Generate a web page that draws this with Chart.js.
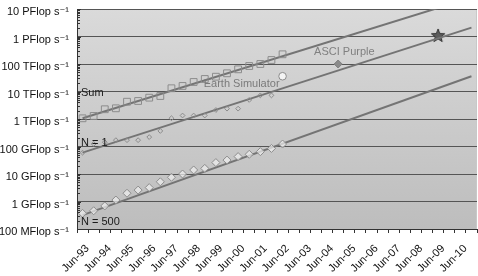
<!DOCTYPE html>
<html>
<head>
<meta charset="utf-8">
<script src="https://cdn.jsdelivr.net/npm/chart.js@4.4.1/dist/chart.umd.min.js"></script>
<style>
  html, body { margin: 0; padding: 0; background: #fff; }
  #wrap { width: 478px; height: 276px; }
</style>
</head>
<body>
<div id="wrap"><canvas id="myChart" width="478" height="276"></canvas></div>
<script>
// half-year TOP500 lists
const categories = ['Jun-93','Nov-93','Jun-94','Nov-94','Jun-95','Nov-95','Jun-96','Nov-96',
  'Jun-97','Nov-97','Jun-98','Nov-98','Jun-99','Nov-99','Jun-00','Nov-00','Jun-01','Nov-01',
  'Jun-02','Nov-02','Jun-03','Nov-03','Jun-04','Nov-04','Jun-05','Nov-05','Jun-06','Nov-06',
  'Jun-07','Nov-07','Jun-08','Nov-08','Jun-09','Nov-09','Jun-10','Nov-10'];

// values in GFlop/s
const sumValues = [1060, 1290, 2260, 2450, 4250, 4520, 5960, 6860, 13100, 15900, 22200,
  28500, 34500, 45900, 64100, 84500, 100000, 139700, 225400];
const n1Values = [59.7, 124, 143, 170, 170, 170, 220, 368, 1068, 1338, 1338, 1338, 2121,
  2379, 2379, 4938, 7226, 7226];
const n500Values = [0.37, 0.46, 0.69, 1.13, 2.0, 2.6, 3.2, 5.2, 7.6, 10, 14, 16, 26, 32,
  43, 52, 65, 85, 123];

// trend lines: value at first and last list
const sumTrend = [1060, 26000000];
const n1Trend = [60, 2100000];
const n500Trend = [0.32, 36000];

const earthSim = {x: 'Jun-02', y: 35860};
const asciPurple = {x: 'Nov-04', y: 100000};
const starPoint = {x: 'Jun-09', y: 1050000};

const yTickValues = [0.1, 1, 10, 100, 1000, 10000, 100000, 1000000, 10000000];
const yTickLabels = ['100 MFlop s\u207B\u00B9', '1 GFlop s\u207B\u00B9', '10 GFlop s\u207B\u00B9',
  '100 GFlop s\u207B\u00B9', '1 TFlop s\u207B\u00B9', '10 TFlop s\u207B\u00B9',
  '100 TFlop s\u207B\u00B9', '1 PFlop s\u207B\u00B9', '10 PFlop s\u207B\u00B9'];

const notes = [
  {text: 'Sum', at: {x: 'Jun-93', y: 10000}, dx: 4, dy: 1, align: 'left', color: '#1a1a1a'},
  {text: 'N = 1', at: {x: 'Jun-93', y: 100}, dx: 4, dy: -4, align: 'left', color: '#1a1a1a'},
  {text: 'N = 500', at: {x: 'Jun-93', y: 0.1}, dx: 4, dy: -7, align: 'left', color: '#1a1a1a'},
  {text: 'Earth Simulator', at: earthSim, dx: -3, dy: 8, align: 'right', color: '#7a7a7a'},
  {text: 'ASCI Purple', at: asciPurple, dx: -24, dy: -12, align: 'left', color: '#808080'}
];

const FONT = "'Liberation Sans', Arial, 'DejaVu Sans', sans-serif";
Chart.defaults.font.family = FONT;
Chart.defaults.font.size = 11;
Chart.defaults.color = '#111';

function isDecade(v) {
  const l = Math.log10(v);
  return Math.abs(l - Math.round(l)) < 1e-9;
}

function makeStar(r) {
  const c = document.createElement('canvas');
  c.width = c.height = 2 * r + 2;
  const g = c.getContext('2d');
  g.beginPath();
  for (let i = 0; i < 10; i++) {
    const rr = i % 2 === 0 ? r : r * 0.42;
    const a = -Math.PI / 2 + i * Math.PI / 5;
    const px = r + 1 + rr * Math.cos(a), py = r + 1 + rr * Math.sin(a);
    if (i === 0) g.moveTo(px, py); else g.lineTo(px, py);
  }
  g.closePath();
  g.fillStyle = '#5c5c5c';
  g.fill();
  g.strokeStyle = '#333';
  g.lineWidth = 1;
  g.stroke();
  return c;
}

function trend(vals) {
  return [{x: categories[0], y: vals[0]}, {x: categories[categories.length - 1], y: vals[1]}];
}

const bgPlugin = {
  id: 'bg',
  beforeDraw(chart) {
    const a = chart.chartArea, ctx = chart.ctx;
    const grad = ctx.createLinearGradient(0, a.top, 0, a.bottom);
    grad.addColorStop(0, '#dadada');
    grad.addColorStop(1, '#bdbdbd');
    ctx.save();
    ctx.fillStyle = grad;
    ctx.fillRect(a.left, a.top, a.right - a.left, a.bottom - a.top);
    ctx.strokeStyle = '#c8c8c8';
    ctx.strokeRect(a.left + 0.5, a.top + 0.5, a.right - a.left - 1, a.bottom - a.top);
    ctx.restore();
  },
  afterDatasetsDraw(chart) {
    const ctx = chart.ctx, xs = chart.scales.x, ys = chart.scales.y, a = chart.chartArea;
    ctx.save();
    // minor ticks inside the y axis
    ctx.strokeStyle = '#333';
    ctx.lineWidth = 1;
    ys.ticks.forEach(t => {
      const py = Math.round(ys.getPixelForValue(t.value)) + 0.5;
      ctx.beginPath();
      ctx.moveTo(a.left, py);
      ctx.lineTo(a.left + (isDecade(t.value) ? 4 : 3), py);
      ctx.stroke();
    });
    ctx.font = '11px ' + FONT;
    ctx.textBaseline = 'middle';
    notes.forEach(n => {
      // labels tied to the first list sit against the y axis
      const base = n.at.x === categories[0] ? a.left : xs.getPixelForValue(categories.indexOf(n.at.x));
      const py = ys.getPixelForValue(n.at.y) + n.dy;
      ctx.fillStyle = n.color;
      ctx.textAlign = n.align;
      ctx.fillText(n.text, base + n.dx, py);
    });
    ctx.restore();
  }
};

const lineStyle = {type: 'line', borderColor: '#747474', borderWidth: 2, pointRadius: 0,
  fill: false, showLine: true};

const config = {
  type: 'line',
  data: {
    labels: categories,
    datasets: [
      {label: 'Sum', data: sumValues, showLine: false, pointStyle: 'rect', pointRadius: 4.8,
        pointBorderColor: '#8c8c8c', pointBackgroundColor: 'rgba(0,0,0,0)', pointBorderWidth: 1},
      {label: 'N=1', data: n1Values, showLine: false, pointStyle: 'rectRot', pointRadius: 2.4,
        pointBorderColor: '#8c8c8c', pointBackgroundColor: 'rgba(0,0,0,0)', pointBorderWidth: 1},
      {label: 'N=500', data: n500Values, showLine: false, pointStyle: 'rectRot', pointRadius: 4,
        pointBorderColor: '#8c8c8c', pointBackgroundColor: 'rgba(240,240,240,0.7)', pointBorderWidth: 1},
      Object.assign({label: 'Sum trend', data: trend(sumTrend)}, lineStyle),
      Object.assign({label: 'N=1 trend', data: trend(n1Trend)}, lineStyle),
      Object.assign({label: 'N=500 trend', data: trend(n500Trend)}, lineStyle),
      {label: 'Earth Simulator', data: [earthSim], showLine: false, pointStyle: 'circle',
        pointRadius: 3.8, pointBorderColor: '#8c8c8c', pointBackgroundColor: '#f4f4f4', pointBorderWidth: 1},
      {label: 'ASCI Purple', data: [asciPurple], showLine: false, pointStyle: 'rectRot',
        pointRadius: 4, pointBorderColor: '#808080', pointBackgroundColor: '#8a8a8a', pointBorderWidth: 1},
      {label: 'star', data: [starPoint], showLine: false, pointStyle: makeStar(7), pointRadius: 7}
    ]
  },
  options: {
    responsive: false,
    animation: false,
    layout: {autoPadding: false, padding: {top: 9, right: 1, left: 0, bottom: 0}},
    plugins: {legend: {display: false}, tooltip: {enabled: false}},
    scales: {
      x: {
        type: 'category',
        offset: true,
        afterFit(scale) {
          scale.height = 47;
          scale.paddingLeft = 0;
          scale.paddingRight = 0;
        },
        grid: {offset: true, drawOnChartArea: false, drawTicks: true, tickLength: 4, tickColor: '#333'},
        border: {color: '#333', width: 1},
        ticks: {
          autoSkip: false, maxRotation: 45, minRotation: 45, padding: 9, labelOffset: 5,
          color: '#111', font: {size: 11},
          callback: (v, i) => (i % 2 === 0 ? categories[i] : '')
        }
      },
      y: {
        type: 'logarithmic',
        min: yTickValues[0],
        max: yTickValues[yTickValues.length - 1],
        afterFit(scale) {
          scale.width = 77;
          scale.paddingTop = 0;
          scale.paddingBottom = 0;
        },
        afterBuildTicks(scale) {
          const t = [];
          yTickValues.forEach((d, i) => {
            t.push({value: d});
            if (i < yTickValues.length - 1) {
              for (let k = 2; k <= 9; k++) t.push({value: d * k});
            }
          });
          scale.ticks = t;
        },
        grid: {
          drawTicks: false,
          color: ctx => (ctx.tick && isDecade(ctx.tick.value) ? '#555' : 'rgba(0,0,0,0)'),
          lineWidth: 1
        },
        border: {color: '#333', width: 1},
        ticks: {
          autoSkip: false, padding: 8, labelOffset: 3, color: '#111', font: {size: 11},
          callback: v => {
            const i = yTickValues.findIndex(d => Math.abs(d - v) < d * 1e-6);
            return i >= 0 ? yTickLabels[i] : '';
          }
        }
      }
    }
  },
  plugins: [bgPlugin]
};

const myChart = new Chart(document.getElementById('myChart'), config);
</script>
</body>
</html>
